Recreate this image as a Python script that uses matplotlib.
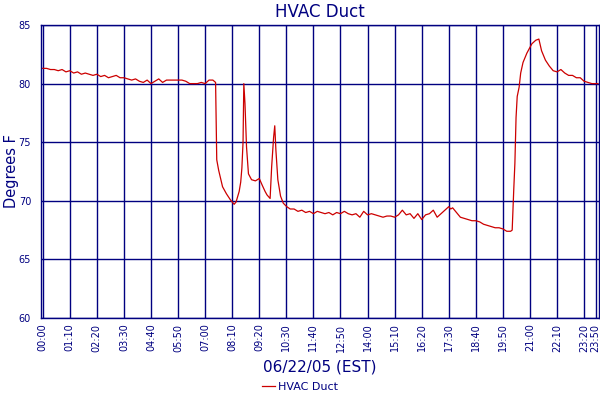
import numpy as np
import matplotlib
matplotlib.use("Agg")
import matplotlib.pyplot as plt

# minutes after midnight, and duct temperature (deg F)
minutes = [0, 10, 20, 30, 40, 50, 60, 70, 80, 90, 100, 110, 120, 130, 140, 150,
           160, 170, 180, 190, 200, 210, 220, 230, 240, 250, 260, 270, 280, 290,
           300, 310, 320, 330, 340, 350, 360, 370, 380, 390, 400, 410, 420, 430,
           440, 447, 450, 455, 465, 475, 485, 490, 495, 500, 508, 512, 515, 518,
           520, 523, 527, 532, 540, 550, 560, 568, 575, 580, 588, 592, 597, 600,
           603, 608, 615, 622, 631, 640, 650, 660, 670, 680, 690, 700, 710, 720,
           730, 740, 750, 760, 770, 780, 790, 800, 810, 820, 830, 840, 850, 860,
           870, 880, 890, 900, 910, 920, 930, 940, 950, 960, 970, 980, 990, 1000,
           1010, 1020, 1030, 1040, 1050, 1055, 1060, 1070, 1080, 1090, 1100, 1110,
           1120, 1130, 1140, 1150, 1160, 1170, 1180, 1190, 1200, 1210, 1214, 1218,
           1221, 1224, 1227, 1232, 1236, 1242, 1252, 1265, 1275, 1283, 1290, 1300,
           1310, 1320, 1330, 1340, 1350, 1360, 1370, 1380, 1390, 1400, 1410, 1420,
           1436]
temps = [81.3, 81.3, 81.2, 81.2, 81.1, 81.2, 81.0, 81.1, 80.9, 81.0, 80.8, 80.9,
         80.8, 80.7, 80.8, 80.6, 80.7, 80.5, 80.6, 80.7, 80.5, 80.5, 80.4, 80.3,
         80.4, 80.2, 80.1, 80.3, 80.0, 80.2, 80.4, 80.1, 80.3, 80.3, 80.3, 80.3,
         80.3, 80.2, 80.0, 80.0, 80.0, 80.1, 80.0, 80.3, 80.3, 80.1, 73.5, 72.6,
         71.2, 70.6, 70.1, 69.9, 69.7, 69.9, 70.8, 71.6, 72.8, 75.0, 80.0, 78.3,
         74.6, 72.3, 71.8, 71.7, 71.9, 71.3, 70.8, 70.5, 70.2, 72.9, 75.4, 76.4,
         74.3, 71.8, 70.4, 69.8, 69.5, 69.3, 69.3, 69.1, 69.2, 69.0, 69.1, 68.9,
         69.1, 69.0, 68.9, 69.0, 68.8, 69.0, 68.9, 69.1, 68.9, 68.8, 68.9, 68.6,
         69.1, 68.8, 68.9, 68.8, 68.7, 68.6, 68.7, 68.7, 68.6, 68.8, 69.2, 68.8,
         68.9, 68.5, 68.9, 68.4, 68.8, 68.9, 69.2, 68.6, 68.9, 69.2, 69.5, 69.3,
         69.4, 69.0, 68.6, 68.5, 68.4, 68.3, 68.3, 68.2, 68.0, 67.9, 67.8, 67.7,
         67.7, 67.6, 67.4, 67.4, 67.5, 70.9, 73.2, 77.1, 78.9, 79.7, 80.9, 81.8,
         82.6, 83.4, 83.7, 83.8, 82.8, 82.0, 81.5, 81.1, 81.0, 81.2, 80.9, 80.7,
         80.7, 80.5, 80.5, 80.2, 80.1, 80.0, 80.0]

tick_minutes = [0, 70, 140, 210, 280, 350, 420, 490, 560, 630, 700, 770, 840,
                910, 980, 1050, 1120, 1190, 1260, 1330, 1400, 1430]
tick_labels = ["%02d:%02d" % (m // 60, m % 60) for m in tick_minutes]

navy = "#000080"
red = "#cc0000"

fig = plt.figure(figsize=(6, 4), dpi=100)
ax = fig.add_axes([0.068, 0.205, 0.93, 0.7325])

ax.plot(minutes, temps, color=red, lw=0.9, label="HVAC Duct")

ax.set_xlim(-5, 1438)
ax.set_ylim(60, 85)
ax.set_xticks(tick_minutes)
ax.set_xticklabels(tick_labels, rotation=90, fontsize=7, color=navy)
ax.set_yticks([60, 65, 70, 75, 80, 85])
ax.tick_params(axis="y", labelsize=7, colors=navy, length=0, pad=7)
ax.tick_params(axis="x", colors=navy, length=0, pad=4)
ax.grid(True, color=navy, lw=1)
ax.set_axisbelow(True)
for s in ax.spines.values():
    s.set_color(navy)
    s.set_linewidth(1)

ax.set_title("HVAC Duct", color=navy, fontsize=12, pad=6)
ax.set_ylabel("Degrees F", color=navy, fontsize=10.5, labelpad=0)
ax.set_xlabel("06/22/05 (EST)", color=navy, fontsize=11, labelpad=6)

leg = fig.legend(loc="lower center", bbox_to_anchor=(0.5, -0.005), frameon=False,
                 fontsize=8, handlelength=1.2, handletextpad=0.3)
for t in leg.get_texts():
    t.set_color(navy)

fig.savefig("out.png", dpi=100)
